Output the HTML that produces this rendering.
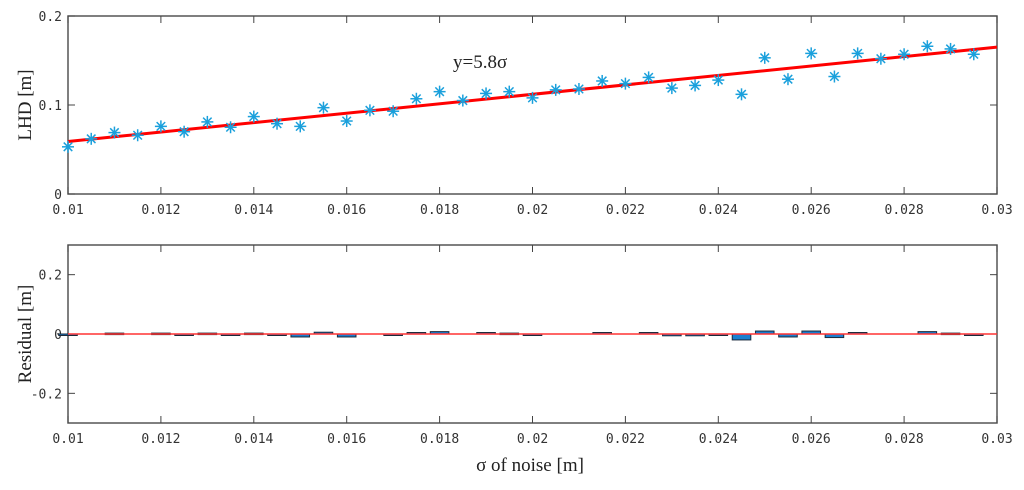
<!DOCTYPE html>
<html><head><meta charset="utf-8"><style>
body{margin:0;background:#fff;}
svg{display:block;}
.tk{font-family:"DejaVu Sans Mono","Liberation Mono",monospace;font-size:13px;fill:#333;}
.lab{font-family:"Liberation Serif",serif;font-size:19px;fill:#222;}
</style></head><body>
<svg id="c" width="1024" height="490" viewBox="0 0 1024 490"></svg>
<script>
const xValues=[0.01,0.0105,0.011,0.0115,0.012,0.0125,0.013,0.0135,0.014,0.0145,0.015,0.0155,0.016,0.0165,0.017,0.0175,0.018,0.0185,0.019,0.0195,0.02,0.0205,0.021,0.0215,0.022,0.0225,0.023,0.0235,0.024,0.0245,0.025,0.0255,0.026,0.0265,0.027,0.0275,0.028,0.0285,0.029,0.0295];
const lhdValues=[0.053,0.062,0.069,0.066,0.076,0.070,0.081,0.075,0.087,0.079,0.076,0.097,0.082,0.094,0.093,0.107,0.115,0.105,0.113,0.115,0.108,0.117,0.118,0.127,0.124,0.131,0.119,0.122,0.128,0.112,0.153,0.129,0.158,0.132,0.158,0.152,0.157,0.166,0.163,0.157];
const residualValues=[-0.005,0,0.003,0,0.003,-0.003,0.003,-0.003,0.003,-0.003,-0.01,0.006,-0.01,0,-0.003,0.005,0.008,0,0.005,0.003,-0.003,0,0,0.005,0,0.005,-0.006,-0.006,-0.003,-0.02,0.01,-0.01,0.01,-0.012,0.005,0,0,0.008,0.003,-0.003];
const fitLine=[[0.01,0.059],[0.03,0.165]];
const xTicks=[0.01,0.012,0.014,0.016,0.018,0.02,0.022,0.024,0.026,0.028,0.03];
const xTickLabels=["0.01","0.012","0.014","0.016","0.018","0.02","0.022","0.024","0.026","0.028","0.03"];
const topYTicks=[0,0.1,0.2];const topYLabels=["0","0.1","0.2"];
const botYTicks=[-0.2,0,0.2];const botYLabels=["-0.2","0","0.2"];

const svg=document.getElementById('c');const NS='http://www.w3.org/2000/svg';
function mk(t,a,p){const e=document.createElementNS(NS,t);for(const k in a)e.setAttribute(k,a[k]);(p||svg).appendChild(e);return e;}
const X0=68,X1=997;
const x=v=>X0+(v-0.01)/0.02*(X1-X0);
const yT=v=>194-v/0.2*178;
const yB=v=>334-v/0.3*89;

function axes(top,bot,yf,yt,yl,name){
  const g=mk('g',{});
  mk('rect',{x:X0,y:top,width:X1-X0,height:bot-top,fill:'none',stroke:'#555','stroke-width':1.5},g);
  xTicks.forEach((t,i)=>{const px=x(t);
    mk('line',{x1:px,y1:bot,x2:px,y2:bot-7,stroke:'#444'},g);
    mk('line',{x1:px,y1:top,x2:px,y2:top+7,stroke:'#444'},g);
    const tx=mk('text',{x:px,y:bot+20,'text-anchor':'middle',class:'tk'},g);tx.textContent=xTickLabels[i];
    });
  yt.forEach((t,i)=>{const py=yf(t);
    mk('line',{x1:X0,y1:py,x2:X0+7,y2:py,stroke:'#444'},g);
    mk('line',{x1:X1,y1:py,x2:X1-7,y2:py,stroke:'#444'},g);
    const tx=mk('text',{x:X0-6,y:py+5,'text-anchor':'end',class:'tk'},g);tx.textContent=yl[i];
    });
}
axes(16,194,yT,topYTicks,topYLabels,'top-axes');
axes(245,423,yB,botYTicks,botYLabels,'bottom-axes');

const fl=mk('line',{x1:x(fitLine[0][0]),y1:yT(fitLine[0][1]),x2:x(fitLine[1][0]),y2:yT(fitLine[1][1]),stroke:'#f00','stroke-width':3});

xValues.forEach((xv,i)=>{const cx=x(xv),cy=yT(lhdValues[i]);const g=mk('g',{stroke:'#1aa0dc','stroke-width':1.5});
  
  const r=6;[[0,1],[1,0],[0.71,0.71],[0.71,-0.71]].forEach(([a,b])=>mk('line',{x1:cx-a*r,y1:cy-b*r,x2:cx+a*r,y2:cy+b*r},g));});
const eq=mk('text',{x:453,y:68,class:'lab','font-size':'19'});eq.textContent='y=5.8σ';


const bw=x(0.0104)-x(0.01);
xValues.forEach((xv,i)=>{const r=residualValues[i];if(r===0)return;const y0=yB(0),y1=yB(r);
  const b=mk('rect',{x:x(xv)-bw/2,y:Math.min(y0,y1),width:bw,height:Math.max(Math.abs(y1-y0),1.5),fill:'#1b7fd0',stroke:'#1a2a3a','stroke-width':1});
  });
const zl=mk('line',{x1:X0,y1:yB(0),x2:X1,y2:yB(0),stroke:'#f33','stroke-width':1.5});


const yl1=mk('text',{x:0,y:0,class:'lab',transform:'translate(31,105) rotate(-90)','text-anchor':'middle'});yl1.textContent='LHD [m]';

const yl2=mk('text',{x:0,y:0,class:'lab',transform:'translate(31,334) rotate(-90)','text-anchor':'middle'});yl2.textContent='Residual [m]';

const xl=mk('text',{x:530,y:471,class:'lab','text-anchor':'middle'});xl.textContent='σ of noise [m]';

</script>
</body></html>
